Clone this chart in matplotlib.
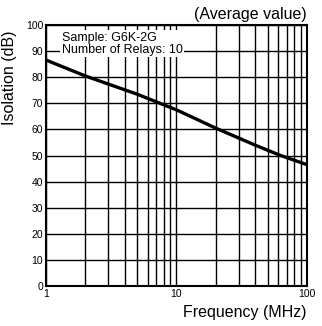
import numpy as np
import matplotlib.pyplot as plt

plt.rcParams['font.family'] = ['Liberation Sans', 'DejaVu Sans']

# isolation vs frequency, G6K-2G (average of 10 relays)
freq = [1, 2, 5, 10, 20, 40, 63, 100]
isolation = [86.6, 80.5, 73.5, 67.5, 60.5, 54, 50, 46.5]

x_ticks = [1, 10, 100]
x_labels = ["1", "10", "100"]
y_ticks = list(range(0, 101, 10))

fig = plt.figure(figsize=(3.22, 3.26), dpi=100)
ax = fig.add_axes([0.143, 0.123, 0.81, 0.80])

ax.set_xscale("log")
ax.set_xlim(1, 100)
ax.set_ylim(0, 100)

#grid lines at every decade step
for d in [1, 10]:
    for k in range(1, 10):
        ax.axvline(d * k, color="black", lw=1.0, zorder=1)
for y in y_ticks:
    ax.axhline(y, color="black", lw=1.0, zorder=1)

ax.plot(freq, isolation, color="black", lw=2.4, zorder=3)

ax.set_xticks(x_ticks)
ax.set_xticklabels(x_labels, fontsize=7.5)
ax.set_xticks([], minor=True)
ax.set_yticks(y_ticks)
ax.set_yticklabels([str(y) for y in y_ticks], fontsize=7.5)
ax.tick_params(length=0, pad=2)
for s in ax.spines.values():
    s.set_linewidth(1.5)

ax.text(1.32, 97.5, "Sample: G6K-2G\nNumber of Relays: 10", fontsize=9,
        va="top", ha="left", linespacing=1.0, zorder=4,
        bbox=dict(facecolor="white", edgecolor="none", pad=1))

ax.set_ylabel("Isolation (dB)", fontsize=11.5)
ax.yaxis.set_label_coords(-0.11, 0.80)
fig.text(0.953, 0.955, "(Average value)", fontsize=11.5, ha="right", va="center")
fig.text(0.953, 0.04, "Frequency (MHz)", fontsize=11.5, ha="right", va="center")

fig.savefig("out.png", dpi=100)
